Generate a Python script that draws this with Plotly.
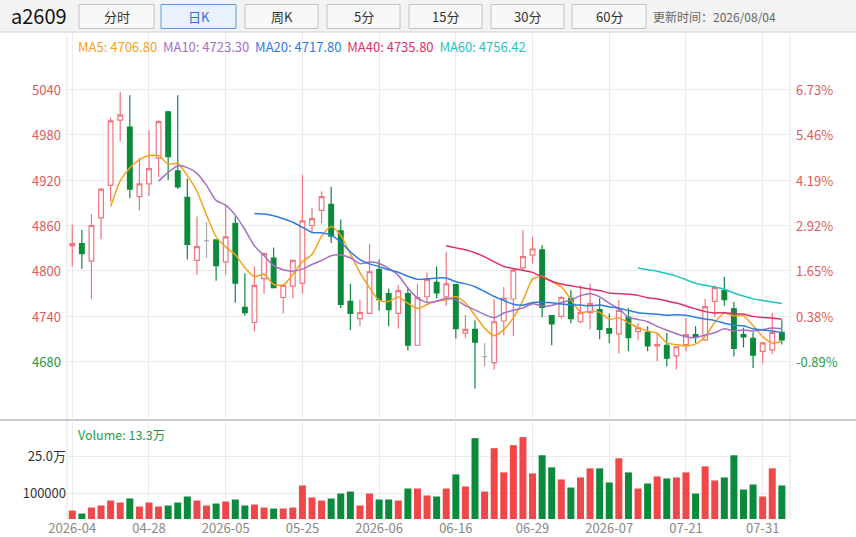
import pandas as pd
import plotly.graph_objects as go

symbol = "a2609"
update_time = "更新时间：2026/08/04"

dates = ["2026-04-16", "2026-04-17", "2026-04-20", "2026-04-21", "2026-04-22", "2026-04-23", "2026-04-24",
         "2026-04-27", "2026-04-28", "2026-04-29", "2026-04-30", "2026-05-06", "2026-05-07", "2026-05-08",
         "2026-05-11", "2026-05-12", "2026-05-13", "2026-05-14", "2026-05-15", "2026-05-18", "2026-05-19",
         "2026-05-20", "2026-05-21", "2026-05-22", "2026-05-25", "2026-05-26", "2026-05-27", "2026-05-28",
         "2026-05-29", "2026-06-01", "2026-06-02", "2026-06-03", "2026-06-04", "2026-06-05", "2026-06-08",
         "2026-06-09", "2026-06-10", "2026-06-11", "2026-06-12", "2026-06-15", "2026-06-16", "2026-06-17",
         "2026-06-18", "2026-06-22", "2026-06-23", "2026-06-24", "2026-06-25", "2026-06-26", "2026-06-29",
         "2026-06-30", "2026-07-01", "2026-07-02", "2026-07-03", "2026-07-06", "2026-07-07", "2026-07-08",
         "2026-07-09", "2026-07-10", "2026-07-13", "2026-07-14", "2026-07-15", "2026-07-16", "2026-07-17",
         "2026-07-20", "2026-07-21", "2026-07-22", "2026-07-23", "2026-07-24", "2026-07-27", "2026-07-28",
         "2026-07-29", "2026-07-30", "2026-07-31", "2026-08-03", "2026-08-04"]

opens = [4833, 4836, 4813, 4870, 4913, 4999, 4990, 4898, 4915, 4949,
         5010, 4932, 4897, 4814, 4840, 4841, 4812, 4863, 4752, 4732,
         4790, 4817, 4765, 4780, 4784, 4860, 4880, 4888, 4853, 4760,
         4737, 4744, 4802, 4770, 4744, 4770, 4702, 4766, 4785, 4766,
         4782, 4718, 4723, 4687, 4679, 4734, 4763, 4804, 4821, 4828,
         4741, 4740, 4764, 4733, 4745, 4749, 4724, 4717, 4739, 4720,
         4719, 4701, 4702, 4688, 4703, 4716, 4709, 4760, 4774, 4750,
         4716, 4711, 4694, 4696, 4719]
highs = [4861, 4854, 4875, 4909, 5002, 5036, 5032, 4949, 4986, 4999,
         5011, 5032, 4922, 4872, 4865, 4841, 4886, 4872, 4797, 4806,
         4824, 4831, 4781, 4815, 4927, 4883, 4905, 4911, 4868, 4783,
         4762, 4836, 4815, 4777, 4781, 4777, 4783, 4798, 4806, 4825,
         4782, 4742, 4735, 4705, 4763, 4779, 4803, 4854, 4845, 4834,
         4741, 4767, 4775, 4781, 4783, 4764, 4744, 4762, 4751, 4731,
         4727, 4718, 4718, 4700, 4738, 4727, 4763, 4781, 4792, 4759,
         4725, 4719, 4705, 4745, 4735]
lows = [4806, 4803, 4763, 4842, 4891, 4971, 4896, 4880, 4899, 4924,
        4920, 4908, 4815, 4795, 4817, 4787, 4795, 4758, 4741, 4720,
        4770, 4777, 4744, 4764, 4770, 4850, 4863, 4837, 4751, 4722,
        4727, 4743, 4748, 4727, 4724, 4695, 4701, 4758, 4764, 4754,
        4711, 4712, 4645, 4674, 4670, 4715, 4714, 4800, 4810, 4739,
        4702, 4737, 4731, 4731, 4723, 4710, 4705, 4691, 4694, 4709,
        4694, 4681, 4674, 4670, 4694, 4705, 4708, 4740, 4754, 4687,
        4699, 4672, 4678, 4690, 4703]
closes = [4836, 4823, 4860, 4908, 4998, 5006, 4908, 4915, 4935, 4997,
          4951, 4911, 4835, 4832, 4840, 4807, 4845, 4784, 4745, 4781,
          4823, 4778, 4781, 4814, 4866, 4869, 4898, 4846, 4756, 4744,
          4745, 4799, 4762, 4749, 4774, 4702, 4765, 4789, 4771, 4783,
          4724, 4723, 4706, 4687, 4733, 4764, 4801, 4819, 4829, 4752,
          4730, 4765, 4737, 4745, 4757, 4723, 4718, 4748, 4712, 4725,
          4701, 4703, 4685, 4700, 4716, 4713, 4753, 4778, 4762, 4698,
          4713, 4689, 4705, 4719, 4709]
volumes = [33500, 21500, 45500, 53500, 73400, 65400, 81400, 49500, 65400, 49500,
           53500, 65400, 89400, 73400, 53500, 61400, 69400, 77400, 53500, 57400,
           45500, 41500, 41500, 45500, 133000, 85400, 73400, 81400, 101000, 109000,
           53500, 101000, 77400, 77400, 73400, 121000, 121000, 93400, 89400, 121000,
           177000, 129000, 321000, 109000, 281000, 185000, 293000, 325000, 181000, 253000,
           205000, 157000, 125000, 165000, 201000, 201000, 145000, 241000, 185000, 121000,
           141000, 169000, 161000, 165000, 185000, 101000, 209000, 153000, 165000, 253000,
           117000, 137000, 89400, 201000, 133000]

doji_idx = [14, 43]

tick_idx = list(range(0, 75, 8))
tick_labels = ["2026-04", "04-28", "2026-05", "05-25", "2026-06", "06-16", "06-29", "2026-07", "07-21", "07-31"]

price_ticks = [4680, 4740, 4800, 4860, 4920, 4980, 5040]
pct_labels = ["-0.89%", "0.38%", "1.65%", "2.92%", "4.19%", "5.46%", "6.73%"]
vol_ticks = [100000, 250000]
vol_tick_labels = ["100000", "25.0万"]
volume_label = "Volume: 13.3万"

ma_periods = [5, 10, 20, 40, 60]
ma_names = ["MA5", "MA10", "MA20", "MA40", "MA60"]
ma_last = ["4706.80", "4723.30", "4717.80", "4735.80", "4756.42"]
ma_colors = ["#f5a11c", "#a46fc6", "#2f7be0", "#dc2f6a", "#1fc4c2"]

buttons = ["分时", "日K", "周K", "5分", "15分", "30分", "60分"]
selected_button = "日K"

RED = "#ee767c"
GREEN = "#0b8a3b"
VRED = "#f04848"
FONT = "Noto Sans CJK SC"

# pixel -> paper helpers (plot area 67..790 x 33..519)
L, R, T, B = 67, 790, 33, 519
PW, PH = R - L, B - T


def px(x):
    return (x - L) / PW


def py(y):
    return (B - y) / PH


df = pd.DataFrame(dict(date=dates, open=opens, high=highs, low=lows, close=closes, volume=volumes))
is_doji = df.index.isin(doji_idx)
main = df[~is_doji]
doji = df[is_doji]

fig = go.Figure()

fig.add_trace(go.Candlestick(
    x=main["date"], open=main["open"], high=main["high"], low=main["low"], close=main["close"],
    increasing=dict(line=dict(color=RED, width=1.2), fillcolor="white"),
    decreasing=dict(line=dict(color=GREEN, width=1.2), fillcolor=GREEN),
    hoverinfo="skip", showlegend=False, xaxis="x", yaxis="y"))

fig.add_trace(go.Candlestick(
    x=doji["date"], open=doji["open"], high=doji["high"], low=doji["low"], close=doji["close"],
    increasing=dict(line=dict(color="#aaaaaa", width=1.2), fillcolor="#aaaaaa"),
    decreasing=dict(line=dict(color="#aaaaaa", width=1.2), fillcolor="#aaaaaa"),
    hoverinfo="skip", showlegend=False, xaxis="x", yaxis="y"))

for n, color in zip(ma_periods, ma_colors):
    ma = df["close"].rolling(n).mean()
    fig.add_trace(go.Scatter(x=df["date"], y=ma, mode="lines",
                             line=dict(color=color, width=1.5, shape="spline", smoothing=0.6),
                             hoverinfo="skip", showlegend=False, xaxis="x", yaxis="y"))

vol_colors = [VRED if c >= o else GREEN for o, c in zip(df["open"], df["close"])]
fig.add_trace(go.Bar(x=df["date"], y=df["volume"], marker=dict(color=vol_colors, line=dict(width=0)),
                     hoverinfo="skip", showlegend=False, xaxis="x2", yaxis="y2"))

tickvals = [dates[i] for i in tick_idx]
xcommon = dict(type="category", categoryorder="array", categoryarray=dates,
               range=[-0.55, 74.85], tickvals=tickvals, ticktext=tick_labels,
               showgrid=True, gridcolor="#ebebeb", gridwidth=1, zeroline=False, automargin=False,
               showline=False, ticks="", rangeslider=dict(visible=False), fixedrange=True)

fig.update_layout(
    width=856, height=537,
    margin=dict(l=L, r=856 - R, t=T, b=537 - B),
    paper_bgcolor="white", plot_bgcolor="white",
    font=dict(family=FONT, size=13, color="#333"),
    bargap=0.27,
    xaxis=dict(**xcommon, anchor="y", showticklabels=False),
    xaxis2=dict(**xcommon, anchor="y2", matches="x", showticklabels=True,
                tickfont=dict(size=13, color="#888")),
    yaxis=dict(domain=[py(418), 1], range=[4606, 5114], tickvals=price_ticks, automargin=False,
               showticklabels=False, showgrid=True, gridcolor="#ebebeb", zeroline=False, fixedrange=True),
    yaxis2=dict(domain=[0, py(422)], range=[0, 385000], tickvals=vol_ticks, ticktext=vol_tick_labels,
                showgrid=True, gridcolor="#ebebeb", zeroline=False, ticks="", automargin=False,
                tickfont=dict(size=13, color="#333"), fixedrange=True),
)

shapes = []
annotations = []

# header bar
shapes.append(dict(type="rect", xref="paper", yref="paper", x0=px(0), x1=px(856), y0=py(32), y1=py(0),
                   fillcolor="#f3f3f3", line=dict(width=0), layer="below"))
shapes.append(dict(type="line", xref="paper", yref="paper", x0=px(0), x1=px(856), y0=py(32), y1=py(32),
                   line=dict(color="#cfcfcf", width=1)))
btn_x = [(79, 154), (161, 236), (245, 318), (327, 400), (409, 482), (491, 564), (572, 646)]
for label, (x0, x1) in zip(buttons, btn_x):
    sel = label == selected_button
    shapes.append(dict(type="rect", xref="paper", yref="paper", x0=px(x0), x1=px(x1), y0=py(28.5), y1=py(4.5),
                       fillcolor="#e8f1fc" if sel else "#f8f8f8",
                       line=dict(color="#5b9be0" if sel else "#c2c2c2", width=1)))
    annotations.append(dict(xref="paper", yref="paper", x=px((x0 + x1) / 2), y=py(16.5), text=label,
                            showarrow=False, xanchor="center", yanchor="middle",
                            font=dict(size=13, color="#2e6fd0" if sel else "#333")))
annotations.append(dict(xref="paper", yref="paper", x=px(9), y=py(16), text=symbol, showarrow=False,
                        xanchor="left", yanchor="middle", font=dict(size=20, color="#111")))
annotations.append(dict(xref="paper", yref="paper", x=px(651), y=py(16.5), text=update_time, showarrow=False,
                        xanchor="left", yanchor="middle", font=dict(size=12, color="#666")))

# separator between panes and plot edges
shapes.append(dict(type="line", xref="paper", yref="paper", x0=px(0), x1=px(856), y0=py(420), y1=py(420),
                   line=dict(color="#c9c9c9", width=2)))
for xe in (L, R):
    shapes.append(dict(type="line", xref="paper", yref="paper", x0=px(xe), x1=px(xe), y0=py(B), y1=py(T + 2),
                       line=dict(color="#e3e3e3", width=1), layer="below"))

# MA legend
ma_text = "&nbsp;&nbsp;".join(
    f"<span style='color:{c}'>{n}: {v}</span>" for n, v, c in zip(ma_names, ma_last, ma_colors))
annotations.append(dict(xref="paper", yref="paper", x=px(76), y=py(46), text=ma_text, showarrow=False,
                        xanchor="left", yanchor="middle", font=dict(size=13)))

# price tick labels (left) and percent labels (right)
for v, pl in zip(price_ticks, pct_labels):
    color = "#1f9a4e" if pl.startswith("-") else "#e05a5e"
    annotations.append(dict(xref="paper", yref="y", x=px(63), y=v, text=str(v), showarrow=False,
                            xanchor="right", yanchor="middle", font=dict(size=13, color=color)))
    annotations.append(dict(xref="paper", yref="y", x=px(794), y=v, text=pl, showarrow=False,
                            xanchor="left", yanchor="middle", font=dict(size=13, color=color)))

annotations.append(dict(xref="paper", yref="paper", x=px(76), y=py(434), text=volume_label, showarrow=False,
                        xanchor="left", yanchor="middle", font=dict(size=12.5, color="#1f9a4e")))

fig.update_layout(shapes=shapes, annotations=annotations)

# drop the browser's default body margin so the figure sits at the page corner
fig.write_html("out.html", config={"displayModeBar": False},
               post_script="document.body.style.margin='0';document.body.style.overflow='hidden';")
